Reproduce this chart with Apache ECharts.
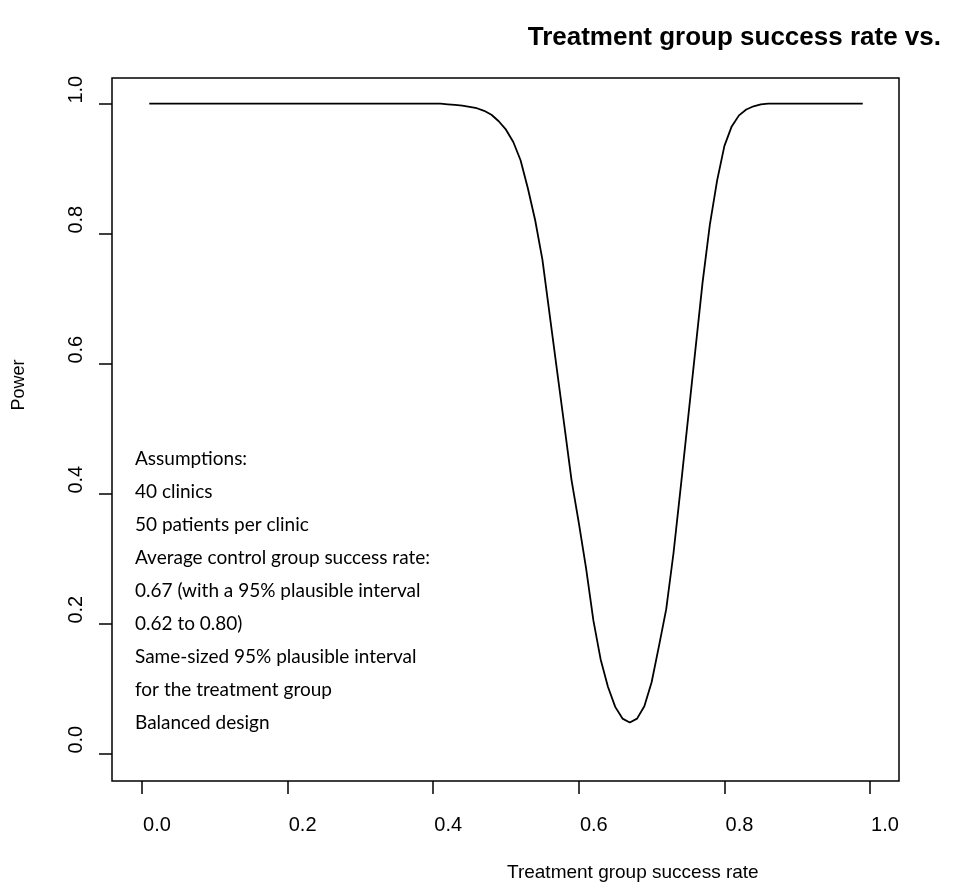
<!DOCTYPE html>
<html><head><meta charset="utf-8">
<script src="https://cdn.jsdelivr.net/npm/echarts@6/dist/echarts.min.js"></script>
<style>html,body{margin:0;padding:0;background:#fff}#c{width:956px;height:893px}</style>
</head><body><div id="c"></div>
<script>
const treatmentRates = [
  0.01,0.02,0.03,0.04,0.05,0.06,0.07,0.08,0.09,0.10,
  0.11,0.12,0.13,0.14,0.15,0.16,0.17,0.18,0.19,0.20,
  0.21,0.22,0.23,0.24,0.25,0.26,0.27,0.28,0.29,0.30,
  0.31,0.32,0.33,0.34,0.35,0.36,0.37,0.38,0.39,0.40,
  0.41,0.42,0.43,0.44,0.45,0.46,0.47,0.48,0.49,0.50,
  0.51,0.52,0.53,0.54,0.55,0.56,0.57,0.58,0.59,0.60,
  0.61,0.62,0.63,0.64,0.65,0.66,0.67,0.68,0.69,0.70,
  0.71,0.72,0.73,0.74,0.75,0.76,0.77,0.78,0.79,0.80,
  0.81,0.82,0.83,0.84,0.85,0.86,0.87,0.88,0.89,0.90,
  0.91,0.92,0.93,0.94,0.95,0.96,0.97,0.98,0.99
];
const powerValues = [
  1,1,1,1,1,1,1,1,1,1,
  1,1,1,1,1,1,1,1,1,1,
  1,1,1,1,1,1,1,1,1,1,
  1,1,1,1,1,1,1,1,1,1,
  1,0.999,0.998,0.997,0.995,0.993,0.989,0.983,0.973,0.960,
  0.941,0.913,0.870,0.821,0.760,0.675,0.590,0.506,0.421,0.355,
  0.285,0.205,0.145,0.103,0.072,0.054,0.048,0.054,0.073,0.110,
  0.165,0.222,0.308,0.410,0.515,0.620,0.725,0.814,0.882,0.935,
  0.965,0.982,0.991,0.996,0.999,1,1,1,1,1,
  1,1,1,1,1,1,1,1,1
];
const xTickValues = [0, 0.2, 0.4, 0.6, 0.8, 1.0];
const yTickValues = [0, 0.2, 0.4, 0.6, 0.8, 1.0];
const titleText = 'Treatment group success rate vs.';
const xAxisTitle = 'Treatment group success rate';
const yAxisTitle = 'Power';
const assumptionLines = [
  'Assumptions:',
  '40 clinics',
  '50 patients per clinic',
  'Average control group success rate:',
  '0.67 (with a 95% plausible interval',
  '0.62 to 0.80)',
  'Same-sized 95% plausible interval',
  'for the treatment group',
  'Balanced design'
];

const chart = echarts.init(document.getElementById('c'), null, {renderer: 'canvas'});
const sans = 'Liberation Sans, Arial, sans-serif';
chart.setOption({
  animation: false,
  backgroundColor: '#fff',
  title: {
    text: titleText,
    right: 10, top: 20,
    textStyle: {fontSize: 26, fontWeight: 'bold', fontFamily: sans, color: '#000'}
  },
  grid: {
    left: 112, right: 57, top: 78, bottom: 112,
    show: true, borderColor: '#000', borderWidth: 1.5, backgroundColor: 'transparent'
  },
  xAxis: {
    type: 'value', min: -0.0412, max: 1.0398,
    axisLine: {show: false, onZero: false},
    splitLine: {show: false},
    axisTick: {show: true, customValues: xTickValues, length: 13, lineStyle: {color: '#000', width: 1.5}},
    axisLabel: {
      customValues: xTickValues,
      formatter: v => v.toFixed(1),
      fontSize: 20, fontFamily: sans, color: '#000',
      margin: 34, padding: [0, 0, 0, 30]
    }
  },
  yAxis: {
    type: 'value', min: -0.042, max: 1.0395,
    axisLine: {show: false, onZero: false},
    splitLine: {show: false},
    axisTick: {show: true, customValues: yTickValues, length: 13, lineStyle: {color: '#000', width: 1.5}},
    axisLabel: {
      customValues: yTickValues,
      formatter: v => v.toFixed(1),
      rotate: 90,
      fontSize: 20, fontFamily: sans, color: '#000',
      margin: 26, padding: [0, 0, 0, 28]
    }
  },
  graphic: [
    {type: 'text', left: 633 - 126, top: 863,
     style: {text: xAxisTitle, fontSize: 19, fontFamily: sans, fill: '#000'}},
    {type: 'text', x: 19, y: 385, rotation: Math.PI / 2,
     style: {text: yAxisTitle, fontSize: 18, fontFamily: sans, fill: '#000', align: 'center', verticalAlign: 'middle'}},
    {type: 'text', x: 135, y: 442,
     style: {text: assumptionLines.join('\n'), fontSize: 19, lineHeight: 33, fontFamily: 'Lato, Carlito, sans-serif', fill: '#000'}}
  ],
  series: [{
    type: 'line',
    data: treatmentRates.map((x, i) => [x, powerValues[i]]),
    showSymbol: false,
    lineStyle: {color: '#000', width: 1.8},
    silent: true
  }]
});
</script>
</body></html>
